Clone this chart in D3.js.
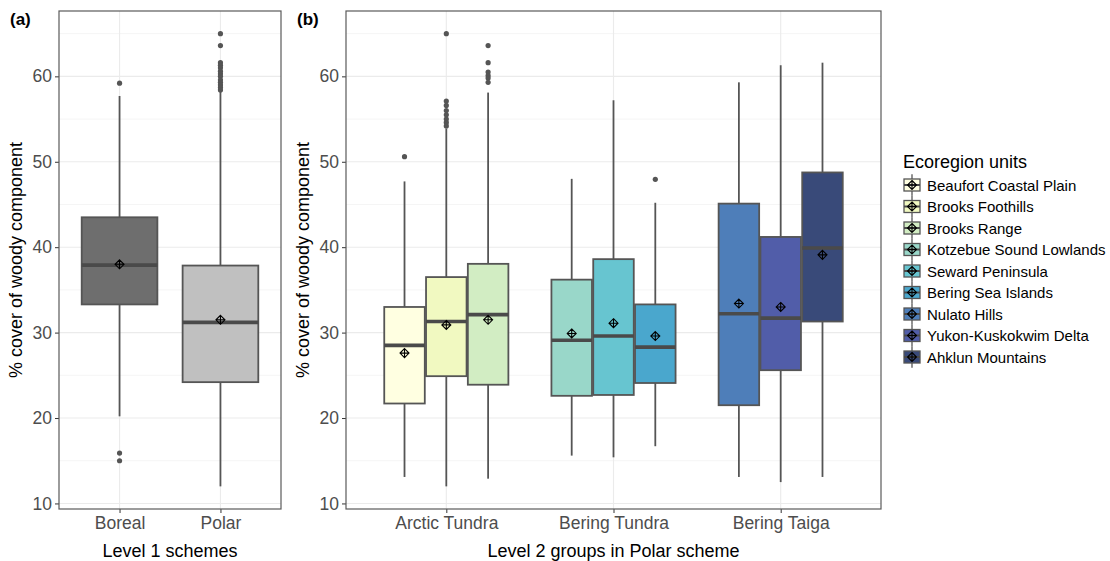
<!DOCTYPE html>
<html>
<head>
<meta charset="utf-8">
<script src="https://cdn.jsdelivr.net/npm/d3@7/dist/d3.min.js"></script>
<style>
  body { margin: 0; background: white; }
  svg { font-family: "Liberation Sans", Arial, sans-serif; }
</style>
</head>
<body>
<svg id="chart" width="1110" height="561"></svg>
<script>
// ---- data ----
// stats: [lower whisker, Q1, median, Q3, upper whisker]
const level1_names = ['Boreal', 'Polar']
const level1_stats = [
    [20.2, 33.3, 37.9, 43.5, 57.7],
    [12.0, 24.2, 31.2, 37.85, 58.2]
]
const level1_means = [38.0, 31.5]
const level1_outliers = [
    [59.2, 15.9, 15.0],
    [65.0, 63.6, 61.6, 61.3, 61.0, 60.6, 60.3, 60.0, 59.6, 59.3, 59.0, 58.7, 58.4]
]

const level2_groups = ['Arctic Tundra', 'Bering Tundra', 'Bering Taiga']
const eco_units = ['Beaufort Coastal Plain', 'Brooks Foothills', 'Brooks Range',
                   'Kotzebue Sound Lowlands', 'Seward Peninsula', 'Bering Sea Islands',
                   'Nulato Hills', 'Yukon-Kuskokwim Delta', 'Ahklun Mountains']
const eco_group = ['Arctic Tundra', 'Arctic Tundra', 'Arctic Tundra',
                   'Bering Tundra', 'Bering Tundra', 'Bering Tundra',
                   'Bering Taiga', 'Bering Taiga', 'Bering Taiga']
const eco_stats = [
    [13.1, 21.7, 28.5, 33.0, 47.7],
    [12.0, 24.9, 31.3, 36.5, 53.9],
    [12.9, 23.9, 32.1, 38.05, 58.1],
    [15.6, 22.6, 29.1, 36.2, 48.0],
    [15.4, 22.7, 29.6, 38.6, 57.2],
    [16.7, 24.1, 28.3, 33.3, 45.2],
    [13.1, 21.5, 32.2, 45.1, 59.3],
    [12.5, 25.6, 31.7, 41.2, 61.3],
    [13.1, 31.3, 39.9, 48.75, 61.6]
]
const eco_means = [27.6, 30.9, 31.5, 29.9, 31.1, 29.6, 33.4, 33.0, 39.1]
const eco_outliers = [
    [50.6],
    [65.0, 57.1, 56.6, 56.0, 55.5, 55.0, 54.6, 54.2],
    [63.6, 61.6, 60.5, 60.1, 59.8, 59.3],
    [],
    [],
    [47.95],
    [],
    [],
    []
]
const y_ticks = [10, 20, 30, 40, 50, 60]
const y_minor = [15, 25, 35, 45, 55, 65]

// ---- layout ----
const svg = d3.select('#chart')
const font = '"Liberation Sans", Arial, sans-serif'
const panel_top = 11, panel_bottom = 509
const panel_a = { left: 59, right: 281 },
      panel_b = { left: 346, right: 881 }
const line_color = '#555555',
      tick_color = '#4D4D4D',
      grid_major = '#EBEBEB',
      grid_minor = '#F5F5F5'

const y = d3.scaleLinear()
            .domain([9.35, 67.65])
            .range([panel_bottom, panel_top])

const xa = d3.scalePoint()
             .domain(level1_names)
             .range([panel_a.left, panel_a.right])
             .padding(0.6)
const xb = d3.scalePoint()
             .domain(level2_groups)
             .range([panel_b.left, panel_b.right])
             .padding(0.6)

const fill_a = d3.scaleOrdinal().domain(level1_names).range(['#6E6E6E', '#C0C0C0'])
// YlGnBu drawn at alpha 0.8 over white
const fill_b = d3.scaleOrdinal()
                 .domain(eco_units)
                 .range(d3.schemeYlGnBu[9].map((c) => {
                     const rgb = d3.rgb(c)
                     return d3.rgb(rgb.r * 0.8 + 51, rgb.g * 0.8 + 51, rgb.b * 0.8 + 51).formatHex()
                 }))

function meanSymbol(g, cx, cy, r) {
    g.append('path')
     .attr('d', `M${cx},${cy - r}L${cx + r},${cy}L${cx},${cy + r}L${cx - r},${cy}Z M${cx},${cy - r}V${cy + r} M${cx - r},${cy}H${cx + r}`)
     .attr('fill', 'none')
     .attr('stroke', 'black')
     .attr('stroke-width', 1.1)
}

function drawPanel(panel, x, label, x_title) {
    let g = svg.append('g')
    // grid
    g.selectAll('.minor')
     .data(y_minor)
     .join('line')
     .attr('x1', panel.left).attr('x2', panel.right)
     .attr('y1', (d) => y(d)).attr('y2', (d) => y(d))
     .attr('stroke', grid_minor).attr('stroke-width', 1)
    g.selectAll('.major')
     .data(y_ticks)
     .join('line')
     .attr('x1', panel.left).attr('x2', panel.right)
     .attr('y1', (d) => y(d)).attr('y2', (d) => y(d))
     .attr('stroke', grid_major).attr('stroke-width', 1.1)
    g.selectAll('.vgrid')
     .data(x.domain())
     .join('line')
     .attr('x1', (d) => x(d)).attr('x2', (d) => x(d))
     .attr('y1', panel_top).attr('y2', panel_bottom)
     .attr('stroke', grid_major).attr('stroke-width', 1.1)

    // axes
    let y_axis = g.append('g')
                  .attr('transform', `translate(${panel.left},0)`)
                  .call(d3.axisLeft(y).tickValues(y_ticks).tickSize(4).tickPadding(3))
    y_axis.select('.domain').remove()
    y_axis.selectAll('line').attr('stroke', '#333')
    y_axis.selectAll('text').attr('fill', tick_color).attr('font-size', 17.5)
          .attr('font-family', font)

    let x_axis = g.append('g')
                  .attr('transform', `translate(0,${panel_bottom})`)
                  .call(d3.axisBottom(x).tickSize(4).tickPadding(4))
    x_axis.select('.domain').remove()
    x_axis.selectAll('line').attr('stroke', '#333')
    x_axis.selectAll('text').attr('fill', tick_color).attr('font-size', 17.5)
          .attr('font-family', font)

    g.append('text')
     .attr('x', (panel.left + panel.right) / 2)
     .attr('y', 557)
     .attr('text-anchor', 'middle')
     .attr('font-size', 18)
     .text(x_title)
    g.append('text')
     .attr('transform', `translate(${panel.left - 37},${(panel_top + panel_bottom) / 2}) rotate(-90)`)
     .attr('text-anchor', 'middle')
     .attr('font-size', 18)
     .text('% cover of woody component')
    g.append('text')
     .attr('x', panel.left - 49)
     .attr('y', 25)
     .attr('font-size', 17)
     .attr('font-weight', 'bold')
     .text(label)
    return g
}

function drawBox(g, cx, w, stats, mean, outliers, fill) {
    const [lo, q1, med, q3, hi] = stats
    g.append('line')
     .attr('x1', cx).attr('x2', cx)
     .attr('y1', y(hi)).attr('y2', y(q3))
     .attr('stroke', line_color).attr('stroke-width', 1.8)
    g.append('line')
     .attr('x1', cx).attr('x2', cx)
     .attr('y1', y(q1)).attr('y2', y(lo))
     .attr('stroke', line_color).attr('stroke-width', 1.8)
    g.append('rect')
     .attr('x', cx - w / 2)
     .attr('y', y(q3))
     .attr('width', w)
     .attr('height', y(q1) - y(q3))
     .attr('fill', fill)
     .attr('stroke', line_color)
     .attr('stroke-width', 1.8)
    g.append('line')
     .attr('x1', cx - w / 2).attr('x2', cx + w / 2)
     .attr('y1', y(med)).attr('y2', y(med))
     .attr('stroke', '#4A4A4A').attr('stroke-width', 3.6)
    g.selectAll(null)
     .data(outliers)
     .join('circle')
     .attr('cx', cx)
     .attr('cy', (d) => y(d))
     .attr('r', 2.6)
     .attr('fill', line_color)
    meanSymbol(g, cx, y(mean), 4.5)
}

// ---- panel (a) ----
let ga = drawPanel(panel_a, xa, '(a)', 'Level 1 schemes')
const step_a = xa.step()
for (let i in level1_names) {
    drawBox(ga, xa(level1_names[i]), step_a * 0.75, level1_stats[i], level1_means[i], level1_outliers[i], fill_a(level1_names[i]))
}

// ---- panel (b) ----
let gb = drawPanel(panel_b, xb, '(b)', 'Level 2 groups in Polar scheme')
const step_b = xb.step(),
      dodge_w = step_b * 0.75 / 3
for (let i in eco_units) {
    const members = eco_units.filter((d, k) => eco_group[k] === eco_group[i]),
          j = members.indexOf(eco_units[i])
    const cx = xb(eco_group[i]) + (j - 1) * dodge_w
    drawBox(gb, cx, dodge_w * 0.97, eco_stats[i], eco_means[i], eco_outliers[i], fill_b(eco_units[i]))
}

// panel borders
for (let p of [panel_a, panel_b]) {
    svg.append('rect')
       .attr('x', p.left).attr('y', panel_top)
       .attr('width', p.right - p.left).attr('height', panel_bottom - panel_top)
       .attr('fill', 'none')
       .attr('stroke', '#5A5A5A')
       .attr('stroke-width', 1.2)
}

// ---- legend ----
let legend = svg.append('g').attr('transform', 'translate(903,0)')
legend.append('text')
      .attr('x', 0).attr('y', 168)
      .attr('font-size', 18)
      .text('Ecoregion units')
const row_h = 21.5
let rows = legend.selectAll('.legend-row')
                 .data(eco_units)
                 .join('g')
                 .attr('transform', (d, i) => `translate(0,${185 + i * row_h})`)
rows.append('line')
    .attr('x1', 9).attr('x2', 9)
    .attr('y1', -row_h / 2).attr('y2', row_h / 2)
    .attr('stroke', line_color).attr('stroke-width', 1.3)
rows.append('rect')
    .attr('x', 1).attr('y', -6)
    .attr('width', 16).attr('height', 12)
    .attr('fill', (d) => fill_b(d))
    .attr('stroke', line_color).attr('stroke-width', 1.3)
rows.append('line')
    .attr('x1', 1).attr('x2', 17)
    .attr('y1', 0).attr('y2', 0)
    .attr('stroke', '#4A4A4A').attr('stroke-width', 2)
rows.each(function () { meanSymbol(d3.select(this), 9, 0, 4.5) })
rows.append('text')
    .attr('x', 24).attr('y', 5.5)
    .attr('font-size', 15)
    .text((d) => d)
</script>
</body>
</html>
